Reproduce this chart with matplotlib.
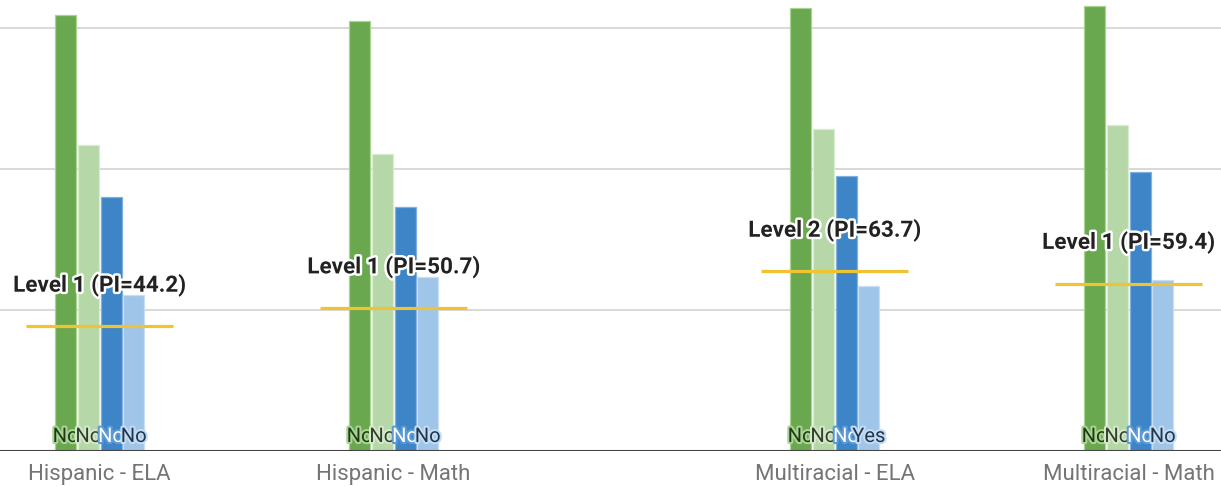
import matplotlib
matplotlib.use("Agg")
import matplotlib.pyplot as plt
import matplotlib.patheffects as pe
import numpy as np

# --- data -------------------------------------------------------------
categories = ["Hispanic - ELA", "Hispanic - Math", "Multiracial - ELA", "Multiracial - Math"]
series_a = [154.6, 152.6, 157.0, 157.8]   # dark green
series_b = [108.5, 105.3, 114.1, 115.6]   # light green
series_c = [90.2, 86.6, 97.5, 98.9]       # blue
series_d = [55.3, 61.7, 58.5, 60.6]       # light blue
pi_values = [44.2, 50.7, 63.7, 59.4]
pi_levels = ["Level 1", "Level 1", "Level 2", "Level 1"]
flags_a = ["No", "No", "No", "No"]
flags_b = ["No", "No", "No", "No"]
flags_c = ["No", "No", "No", "No"]
flags_d = ["No", "No", "Yes", "No"]

# --- layout / style -----------------------------------------------------
group_pos = np.array([0.0, 1.0, 2.5, 3.5])
bar_w = 0.0714
step = 0.0772
offsets = np.array([-1.5, -0.5, 0.5, 1.5]) * step
fills = ["#6aa84f", "#b6d7a8", "#3d85c6", "#9fc5e8"]
edges = ["#a9d490", "#d9ecd0", "#7fb0e0", "#c9def2"]
text_cols = ["#1e3a12", "#2f3f2c", "#ffffff", "#1f3550"]
halo_cols = ["#a8d394", "#d3e8c9", "#5b9ad6", "#c4dcf2"]

plt.rcParams["font.family"] = ["Roboto", "DejaVu Sans"]

fig = plt.figure(figsize=(12.21, 4.86), dpi=100)
ax = fig.add_axes([0.0, 35 / 486, 1.0, 451 / 486])
ax.set_xlim(-0.339, 3.814)
ax.set_ylim(0, 160)

for y in (50, 100, 150):
    ax.axhline(y, color="#d6d6d6", lw=1.3, zorder=0)

series = [series_a, series_b, series_c, series_d]
flags = [flags_a, flags_b, flags_c, flags_d]
z = 2
for gi in range(len(categories)):
    for si in range(4):
        x = group_pos[gi] + offsets[si]
        ax.bar(x, series[si][gi], width=bar_w, color=fills[si],
               edgecolor=edges[si], linewidth=0.9, zorder=z)
        z += 1
    for si in range(4):
        x = group_pos[gi] + offsets[si]
        ax.text(x, 3.2, flags[si][gi], ha="center", va="baseline",
                fontsize=14.5, color=text_cols[si], zorder=z,
                path_effects=[pe.withStroke(linewidth=3, foreground=halo_cols[si])])
        z += 1

# performance index lines and labels
for gi in range(len(categories)):
    x0 = group_pos[gi]
    ax.plot([x0 - 0.25, x0 + 0.25], [pi_values[gi]] * 2, color="#f1c232",
            lw=2.3, solid_capstyle="butt", zorder=z)
    ax.annotate(f"{pi_levels[gi]} (PI={pi_values[gi]})", (x0, pi_values[gi]),
                xytext=(0, 29.5), textcoords="offset points", ha="center", va="center",
                fontsize=16.2, fontweight="bold", color="#222222", zorder=z + 1,
                path_effects=[pe.withStroke(linewidth=3.5, foreground="white")])
    z += 2

ax.axhline(0, color="#444444", lw=1.5, zorder=z)

ax.set_xticks(group_pos)
ax.set_xticklabels(categories, fontsize=16, color="#757575")
ax.tick_params(axis="x", length=0, pad=9)
ax.set_yticks([])
for s in ax.spines.values():
    s.set_visible(False)

fig.savefig("out.png", dpi=100, facecolor="white")
